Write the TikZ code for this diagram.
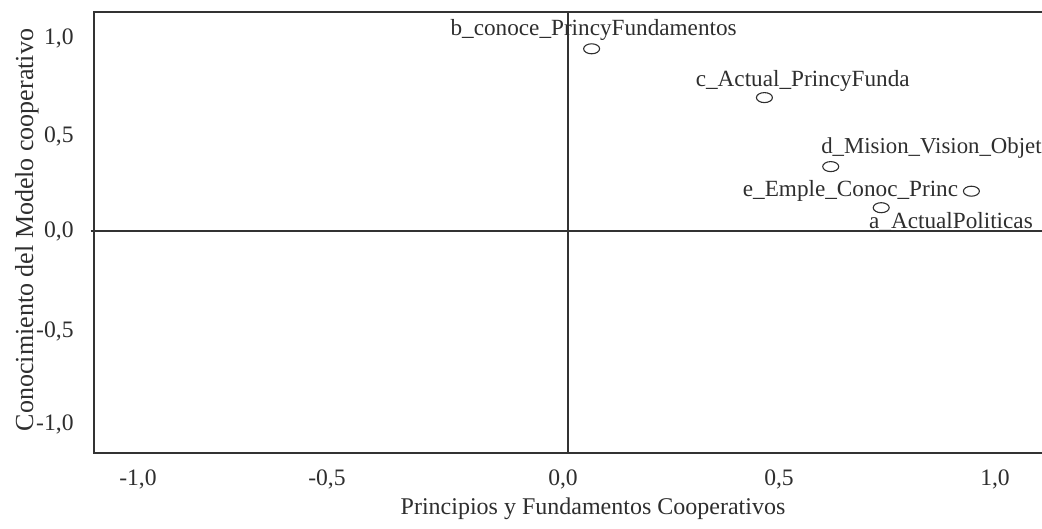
\documentclass[tikz,border=0pt]{standalone}
\usepackage{fontspec}
\setmainfont{Liberation Serif}
\usetikzlibrary{shapes.geometric}
\definecolor{ink}{HTML}{2E2E2E}
\definecolor{frame}{HTML}{333333}
\tikzset{
  lbl/.style={inner sep=0pt, text=ink, font=\fontsize{11.6}{13}\selectfont},
  ticklbl/.style={lbl, font=\fontsize{11.8}{13}\selectfont},
  pt/.style={draw=ink, line width=0.55pt, ellipse, inner sep=0pt, minimum width=8pt, minimum height=5pt},
  axisline/.style={draw=frame, line width=1pt},
}
\begin{document}
\begin{tikzpicture}[x=0.5pt,y=-0.5pt]
\useasboundingbox (0,0) rectangle (1042,529);
% frame
\coordinate (tr) at (1042,11.7);
\coordinate (tl) at (94.3,11.7);
\coordinate (bl) at (94.3,452.7);
\coordinate (br) at (1042,452.7);
\draw[axisline] (tr) -- (tl) -- (bl) -- (br);
% axes
\coordinate (hx0) at (90.7,231);
\coordinate (hx1) at (1042,231);
\coordinate (vy0) at (568,11.7);
\coordinate (vy1) at (568,452.7);
\draw[axisline] (hx0) -- (hx1);
\draw[axisline] (vy0) -- (vy1);
% x tick labels
\node[ticklbl, anchor=base] (xt1) at (138,485) {-1,0};
\node[ticklbl, anchor=base] (xt2) at (327,485) {-0,5};
\node[ticklbl, anchor=base] (xt3) at (563,485) {0,0};
\node[ticklbl, anchor=base] (xt4) at (779,485) {0,5};
\node[ticklbl, anchor=base] (xt5) at (995,485) {1,0};
% y tick labels
\node[ticklbl, anchor=base east] (yt1) at (74,45) {1,0};
\node[ticklbl, anchor=base east] (yt2) at (74,143) {0,5};
\node[ticklbl, anchor=base east] (yt3) at (74,237) {0,0};
\node[ticklbl, anchor=base east] (yt4) at (74,337) {-0,5};
\node[ticklbl, anchor=base east] (yt5) at (74,430) {-1,0};
% axis titles
\node[lbl, anchor=base, font=\fontsize{12}{14}\selectfont] (xtitle) at (593,514) {Principios y Fundamentos Cooperativos};
\node[lbl, anchor=base, rotate=90, font=\fontsize{13}{15}\selectfont] (ytitle) at (33,230) {Conocimiento del Modelo cooperativo};
% points
\node[pt] (pb) at (591.6,48.8) {};
\node[pt] (pc) at (764.4,97.6) {};
\node[pt] (pd) at (830.7,166.6) {};
\node[pt] (pe) at (971.4,191.2) {};
\node[pt] (pa) at (881.2,207.7) {};
% point labels
\node[lbl, anchor=base west] (lb) at (450.2,35.3) {b\_conoce\_PrincyFundamentos};
\node[lbl, anchor=base west] (lc) at (695.4,86.8) {c\_Actual\_PrincyFunda};
\node[lbl, anchor=base west, font=\fontsize{11.4}{13}\selectfont] (ld) at (820.9,154) {d\_Mision\_Vision\_Objet};
\node[lbl, anchor=base west] (le) at (742.5,196.2) {e\_Emple\_Conoc\_Princ};
\node[lbl, anchor=base west] (la) at (868.7,228.2) {a\_ActualPoliticas};
\end{tikzpicture}
\end{document}
